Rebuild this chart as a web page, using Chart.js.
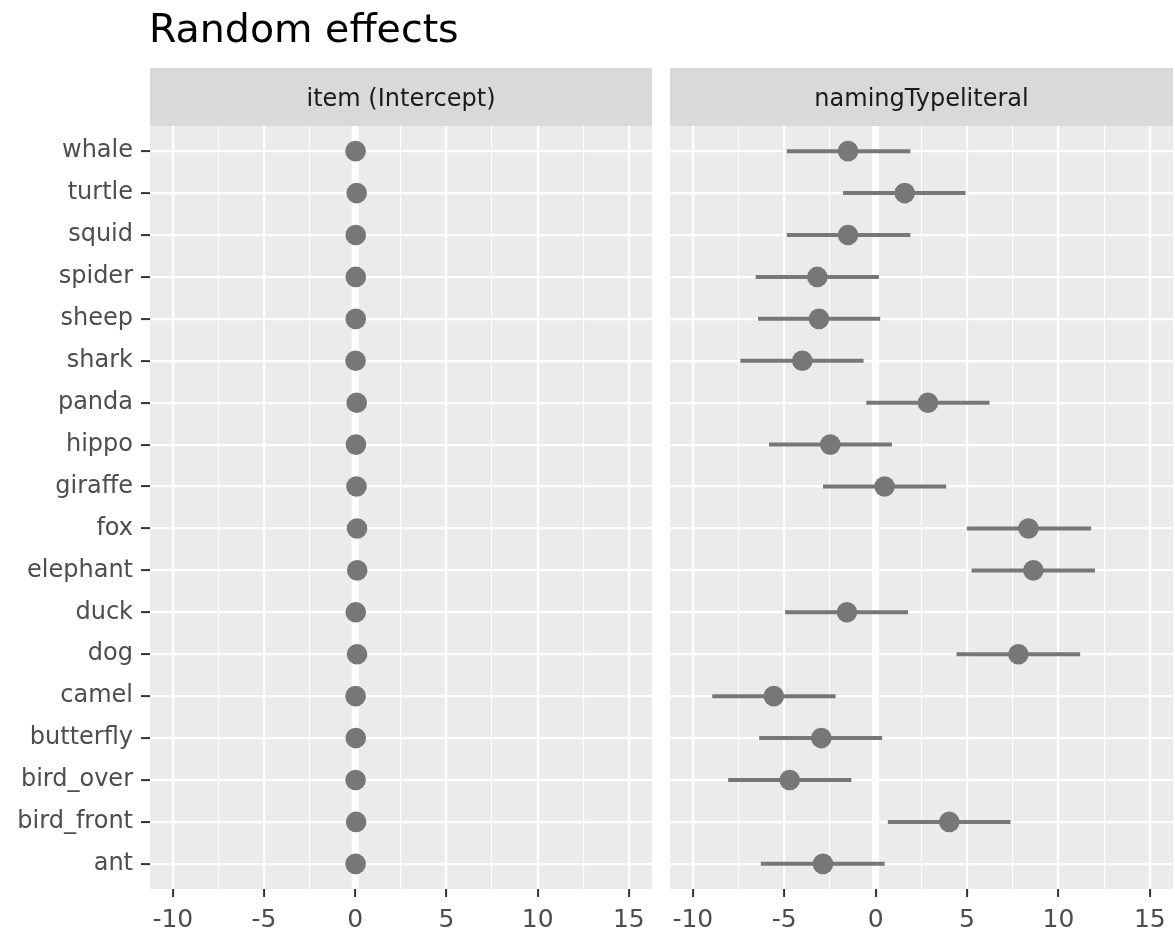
<!DOCTYPE html>
<html lang="en">
<head>
  <meta charset="UTF-8" />
  <title>Random effects</title>
  <script src="https://cdn.jsdelivr.net/npm/chart.js"></script>
  <style>
    body { margin: 0; background: #fff; }
    .panel { position: absolute; top: 0; height: 937px; }
    #left { left: 0; width: 653px; }
    #right { left: 668px; width: 507px; }
  </style>
</head>
<body>
  <div class="panel" id="left"><canvas id="interceptChart"></canvas></div>
  <div class="panel" id="right"><canvas id="literalChart"></canvas></div>

  <script>
    // items top to bottom
    const items = ["whale", "turtle", "squid", "spider", "sheep", "shark", "panda", "hippo", "giraffe",
                   "fox", "elephant", "duck", "dog", "camel", "butterfly", "bird_over", "bird_front", "ant"];

    // item (Intercept)
    const interceptEst = [0.02, 0.08, 0.03, 0.03, 0.03, 0.02, 0.08, 0.04, 0.07,
                          0.10, 0.11, 0.03, 0.10, 0.02, 0.03, 0.02, 0.05, 0.02];
    const interceptLo = [-0.28, -0.22, -0.27, -0.27, -0.27, -0.28, -0.22, -0.26, -0.23,
                         -0.20, -0.19, -0.27, -0.20, -0.28, -0.27, -0.28, -0.25, -0.28];
    const interceptHi = [0.32, 0.38, 0.33, 0.33, 0.33, 0.32, 0.38, 0.34, 0.37,
                         0.40, 0.41, 0.33, 0.40, 0.32, 0.33, 0.32, 0.35, 0.32];

    // namingTypeliteral
    const literalEst = [-1.51, 1.59, -1.51, -3.19, -3.10, -4.01, 2.86, -2.48, 0.49,
                        8.36, 8.63, -1.57, 7.81, -5.57, -2.97, -4.70, 4.03, -2.88];
    const literalLo = [-4.86, -1.78, -4.86, -6.56, -6.43, -7.40, -0.51, -5.83, -2.88,
                       4.99, 5.25, -4.95, 4.43, -8.94, -6.37, -8.07, 0.67, -6.28];
    const literalHi = [1.90, 4.92, 1.90, 0.18, 0.25, -0.66, 6.23, 0.89, 3.86,
                       11.79, 12.00, 1.77, 11.19, -2.19, 0.36, -1.33, 7.38, 0.49];

    const xGridValues = [-10, -7.5, -5, -2.5, 0, 2.5, 5, 7.5, 10, 12.5, 15];
    const xTickLabels = [-10, -5, 0, 5, 10, 15];

    const GREY = "#777777";
    Chart.defaults.font.family = "'DejaVu Sans', sans-serif";

    const panelDeco = {
      id: "panelDeco",
      beforeDraw(chart, args, opts) {
        const { ctx, chartArea: a } = chart;
        ctx.save();
        ctx.fillStyle = "#EBEBEB";
        ctx.fillRect(a.left, a.top, a.right - a.left, a.bottom - a.top);
        ctx.fillStyle = "#D9D9D9";
        ctx.fillRect(a.left, a.top - 58, a.right - a.left, 58);
        ctx.fillStyle = "#1A1A1A";
        ctx.font = "24px 'DejaVu Sans'";
        ctx.textAlign = "center";
        ctx.textBaseline = "middle";
        ctx.fillText(opts.strip, (a.left + a.right) / 2, a.top - 26);
        if (opts.title) {
          ctx.fillStyle = "#000";
          ctx.font = "39.5px 'DejaVu Sans'";
          ctx.textAlign = "left";
          ctx.textBaseline = "alphabetic";
          ctx.fillText(opts.title, a.left - 1, 42);
        }
        ctx.restore();
      }
    };

    function makeChart(canvasId, strip, title, est, lo, hi, showY) {
      const isMajor = (v) => xTickLabels.includes(v);

      const datasets = [
        {
          label: "estimate",
          data: est.map((v, i) => ({ x: v, y: i })),
          pointRadius: 10.3,
          pointBackgroundColor: GREY,
          pointBorderWidth: 0,
          showLine: false
        }
      ];
      items.forEach((name, i) => {
        datasets.push({
          label: name,
          data: [{ x: lo[i], y: i }, { x: hi[i], y: i }],
          showLine: true,
          borderColor: GREY,
          borderWidth: 4,
          borderCapStyle: "butt",
          pointRadius: 0
        });
      });
      // white reference line at 0
      datasets.push({
        label: "zero",
        data: [{ x: 0, y: -0.6 }, { x: 0, y: items.length - 0.4 }],
        showLine: true,
        borderColor: "#FFFFFF",
        borderWidth: 7,
        pointRadius: 0
      });

      return new Chart(document.getElementById(canvasId), {
        type: "scatter",
        data: { datasets },
        options: {
          responsive: true,
          maintainAspectRatio: false,
          animation: false,
          events: [],
          layout: {
            autoPadding: false,
            padding: { top: 126, right: showY ? 1 : 2, left: 0, bottom: 0 }
          },
          plugins: {
            legend: { display: false },
            tooltip: { enabled: false },
            panelDeco: { strip, title }
          },
          scales: {
            x: {
              type: "linear",
              min: -11.25,
              max: 16.27,
              afterBuildTicks: (scale) => { scale.ticks = xGridValues.map((v) => ({ value: v })); },
              afterFit: (scale) => {
                scale.height = 48;
                scale.paddingLeft = 0;
                scale.paddingRight = 0;
              },
              border: { display: false },
              grid: {
                color: "#FFFFFF",
                lineWidth: (c) => (c.tick && isMajor(c.tick.value) ? 2.2 : 1.1),
                tickColor: (c) => (c.tick && isMajor(c.tick.value) ? "#333333" : "rgba(0,0,0,0)"),
                tickWidth: 2,
                tickLength: 8
              },
              ticks: {
                autoSkip: false,
                maxRotation: 0,
                padding: 8,
                color: "#4D4D4D",
                font: { size: 25 },
                callback: (v) => (isMajor(v) ? String(v) : "")
              }
            },
            y: {
              type: "linear",
              reverse: true,
              min: -0.6,
              max: items.length - 0.4,
              afterBuildTicks: (scale) => { scale.ticks = items.map((_, i) => ({ value: i })); },
              afterFit: (scale) => {
                scale.width = showY ? 150 : 2;
                scale.paddingTop = 0;
                scale.paddingBottom = 0;
              },
              border: { display: false },
              grid: {
                color: "#FFFFFF",
                lineWidth: 2.2,
                drawTicks: showY,
                tickColor: "#333333",
                tickWidth: 2,
                tickLength: 9
              },
              ticks: {
                display: showY,
                autoSkip: false,
                padding: 8,
                color: "#4D4D4D",
                font: { size: 24 },
                callback: (v) => items[v]
              }
            }
          }
        },
        plugins: [panelDeco]
      });
    }

    makeChart("interceptChart", "item (Intercept)", "Random effects",
              interceptEst, interceptLo, interceptHi, true);
    makeChart("literalChart", "namingTypeliteral", null,
              literalEst, literalLo, literalHi, false);
  </script>
</body>
</html>
